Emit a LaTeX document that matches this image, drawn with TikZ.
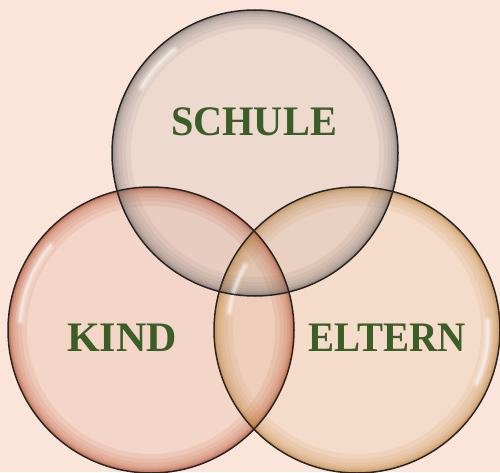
\documentclass[tikz,border=0pt]{standalone}
\usepackage{fontspec}
\setmainfont{Liberation Serif}
\definecolor{paper}{RGB}{251,229,218}
\definecolor{leaf}{RGB}{58,94,37}
\definecolor{schoolrim}{RGB}{112,106,102}
\definecolor{kidrim}{RGB}{176,68,34}
\definecolor{parentrim}{RGB}{188,126,50}
\tikzset{
  every picture/.style={x=1pt, y=1pt},
  bubble/.style={draw=black!85, line width=1.5pt},
  tint/.style={fill opacity=0.09},
  word/.style={font=\fontsize{42}{42}\selectfont\bfseries, text=leaf, inner sep=0pt},
  glint/.style={white, line cap=round},
}

\begin{document}
\begin{tikzpicture}
  \fill[paper] (0,0) rectangle (500,472);
  \useasboundingbox (0,0) rectangle (500,472);

  \coordinate (kid) at (151,142);
  \coordinate (parent) at (357,142);
  \coordinate (school) at (255,319);

  % three see-through bubbles, rim darker than the middle
  \foreach \c/\rim in {kid/kidrim, parent/parentrim, school/schoolrim}{
    \fill[\rim, tint] (\c) circle (143);
    \begin{scope}
      \clip (\c) circle (143);
      \foreach \d in {2,3,4,5,6,8,10,14,20,28,38}
        \draw[\rim, line width=\d pt, opacity=0.09] (\c) circle (143);
    \end{scope}
  }

  % glints
  \foreach \w/\o in {10/0.12, 6/0.22, 3/0.4}{
    \draw[glint, line width=\w pt, opacity=\o] ([shift={(150:131)}]school) arc (150:128:131);
    \draw[glint, line width=\w pt, opacity=\o] ([shift={(176:131)}]kid) arc (176:140:131);
    \draw[glint, line width=\w pt, opacity=\o] ([shift={(172:129)}]parent) arc (172:150:129);
    \draw[glint, line width=\w pt, opacity=\o] ([shift={(-24:131)}]parent) arc (-24:4:131);
  }

  \foreach \c in {kid, parent, school}
    \draw[bubble] (\c) circle (143);

  \node[word, xscale=0.96, transform shape] (schulelbl) at (254,350) {SCHULE};
  \node[word] (kindlbl) at (122,134) {KIND};
  \node[word, xscale=0.93, transform shape] (elternlbl) at (387,134) {ELTERN};
\end{tikzpicture}
\end{document}
